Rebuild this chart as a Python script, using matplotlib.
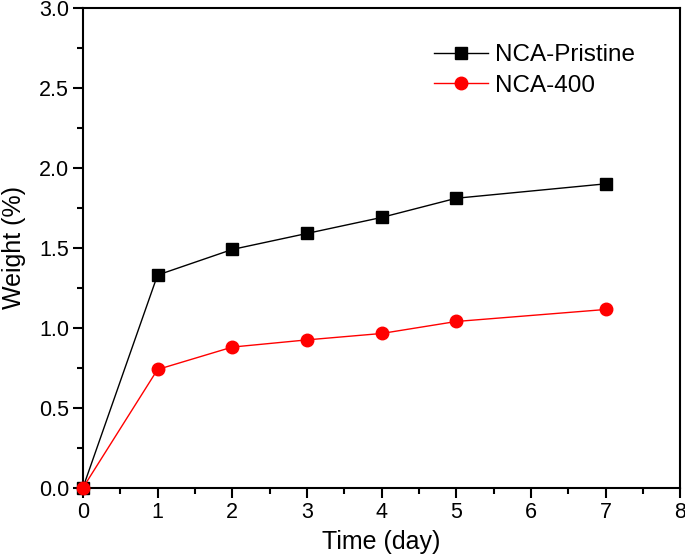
import matplotlib
matplotlib.use("Agg")
import matplotlib.pyplot as plt
from matplotlib.ticker import MultipleLocator

plt.rcParams['font.family'] = ['Liberation Sans', 'DejaVu Sans']

days = [0, 1, 2, 3, 4, 5, 7]
pristine = [0.0, 1.33, 1.49, 1.59, 1.69, 1.81, 1.90]
nca400 = [0.0, 0.74, 0.88, 0.925, 0.965, 1.04, 1.115]

fig = plt.figure(figsize=(6.85, 5.57), dpi=100)
ax = fig.add_axes([0.121, 0.124, 0.872, 0.862])

ax.plot(days, pristine, color='black', lw=1, marker='s', ms=8, label='NCA-Pristine', clip_on=False, zorder=3)
ax.plot(days, nca400, color='red', lw=1, marker='o', ms=9, label='NCA-400', clip_on=False, zorder=4)

ax.set_xlim(0, 8)
ax.set_ylim(0, 3)
ax.xaxis.set_major_locator(MultipleLocator(1))
ax.xaxis.set_minor_locator(MultipleLocator(0.5))
ax.yaxis.set_major_locator(MultipleLocator(0.5))
ax.yaxis.set_minor_locator(MultipleLocator(0.25))
ax.tick_params(which='both', direction='out', width=1.5, labelsize=15.5, top=False, right=False)
ax.tick_params(which='major', length=7, pad=3)
ax.tick_params(which='minor', length=4)
for s in ax.spines.values():
    s.set_linewidth(1.5)

ax.set_xlabel('Time (day)', fontsize=18, labelpad=5)
ax.set_ylabel('Weight (%)', fontsize=18, labelpad=9)

ax.legend(loc='upper left', bbox_to_anchor=(0.56, 0.96), frameon=False, fontsize=17.5,
          handlelength=2.2, handletextpad=0.3, labelspacing=0.35, borderpad=0.2)

fig.savefig('out.png', dpi=100)
